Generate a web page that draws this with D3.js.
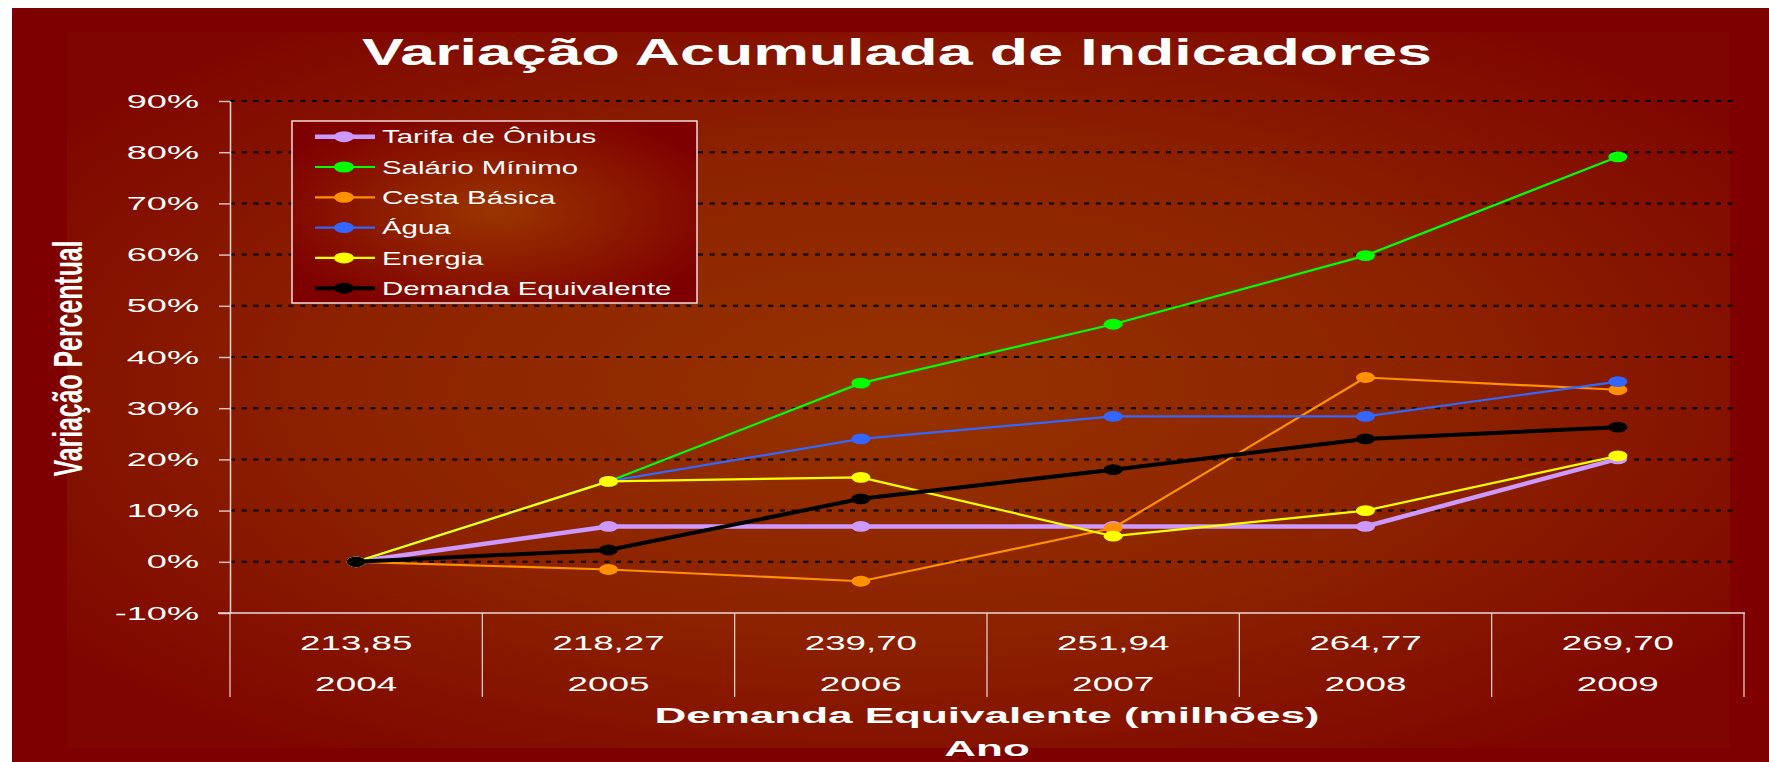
<!DOCTYPE html>
<html>
<head>
<meta charset="utf-8">
<script src="https://cdn.jsdelivr.net/npm/d3@7"></script>
<style>
  body { margin: 0; background: #fff; }
  svg { display: block; font-family: "Liberation Sans", Arial, sans-serif; }
</style>
</head>
<body>
<script>
// data (accumulated % variation)
const years = ['2004', '2005', '2006', '2007', '2008', '2009'];
const demandaLabels = ['213,85', '218,27', '239,70', '251,94', '264,77', '269,70'];
const seriesNames = ['Tarifa de Ônibus', 'Salário Mínimo', 'Cesta Básica', 'Água', 'Energia', 'Demanda Equivalente'];
const tarifa = [0, 6.9, 6.9, 6.9, 6.9, 20.1];
const salario = [0, 15.7, 34.9, 46.4, 59.8, 79.1];
const cesta = [0, -1.5, -3.8, 6.6, 36.0, 33.6];
const agua = [0, 15.7, 24.0, 28.4, 28.4, 35.2];
const energia = [0, 15.7, 16.5, 5.0, 10.0, 20.7];
const demandaEq = [0, 2.3, 12.3, 18.0, 24.0, 26.3];
const yTicks = [-10, 0, 10, 20, 30, 40, 50, 60, 70, 80, 90];

const seriesValues = [tarifa, salario, cesta, agua, energia, demandaEq];
const colors = ['#cc99ff', '#00ff00', '#ff9100', '#3366ff', '#ffff00', '#000000'];
const widths = [4.5, 2.2, 2.2, 2.2, 2.2, 4];

// small attr helper
d3.selection.prototype.at = function(attrs) {
  for (let key in attrs) this.attr(key, attrs[key]);
  return this;
};

const W = 1769, H = 762;
const plotL = 230, plotR = 1744, plotT = 101, plotB = 613;

// the original picture is stretched sideways, so text is widened too
function wide(sel, k) {
  sel.each(function() {
    const w = this.getComputedTextLength();
    d3.select(this).attr('textLength', w * k).attr('lengthAdjust', 'spacingAndGlyphs');
  });
  return sel;
}

const svg = d3.select('body').append('svg').attr('width', W).attr('height', H);
const defs = svg.append('defs');

const pg = defs.append('radialGradient').at({ id: 'panelGrad', cx: 0.5, cy: 0.5, r: 0.62 });
pg.append('stop').at({ offset: 0, 'stop-color': '#963300' });
pg.append('stop').at({ offset: 0.55, 'stop-color': '#8c2200' });
pg.append('stop').at({ offset: 1, 'stop-color': '#7f0600' });

const lg = defs.append('radialGradient').at({ id: 'legGrad', cx: 0.5, cy: 0.5, r: 0.6 });
lg.append('stop').at({ offset: 0, 'stop-color': '#9a3500' });
lg.append('stop').at({ offset: 1, 'stop-color': '#7f0000' });

// frame + panel
svg.append('rect').at({ x: 12, y: 8, width: W - 12, height: H - 8, fill: '#7f0000' });
svg.append('rect').at({ x: 67, y: 32, width: 1663, height: 716, fill: 'url(#panelGrad)' });

const x = d3.scaleBand().domain(years).range([plotL, plotR]);
const y = d3.scaleLinear().domain([-10, 90]).range([plotB, plotT]);

// title
wide(svg.append('text').text('Variação Acumulada de Indicadores')
  .at({ x: 897, y: 65, 'text-anchor': 'middle', fill: '#fff', 'font-size': 36, 'font-weight': 'bold' }), 1.74);

// gridlines
svg.append('g').selectAll('line').data(yTicks.filter(d => d > -10)).join('line')
  .at({ x1: plotL, x2: 1738, y1: d => y(d), y2: d => y(d), stroke: '#000', 'stroke-width': 2, 'stroke-dasharray': '5,6.7' });

// y axis
const yAxis = svg.append('g').attr('transform', `translate(${plotL},0)`)
  .call(d3.axisLeft(y).tickValues(yTicks).tickSize(11).tickSizeOuter(0).tickPadding(20).tickFormat(d => d + '%'));
yAxis.select('.domain').at({ stroke: '#eadada', 'stroke-width': 1.5 });
yAxis.selectAll('.tick line').at({ stroke: '#d8c0c0', 'stroke-width': 1.5 });
wide(yAxis.selectAll('.tick text').at({ fill: '#fff', 'font-size': 19, 'font-family': '"Liberation Sans", Arial, sans-serif' }), 1.9);

// x axis line and category separators
svg.append('line').at({ x1: 218, x2: plotR + 1, y1: plotB, y2: plotB, stroke: '#eadada', 'stroke-width': 1.5 });
svg.append('g').selectAll('line').data(years.concat(['end'])).join('line')
  .at({
    x1: d => d === 'end' ? plotR : x(d), x2: d => d === 'end' ? plotR : x(d),
    y1: plotB, y2: 697, stroke: '#eadada', 'stroke-width': 1.2
  });

const xAxis1 = svg.append('g').attr('transform', `translate(0,${plotB})`)
  .call(d3.axisBottom(x).tickSize(0).tickPadding(22.5).tickFormat((d, i) => demandaLabels[i]));
xAxis1.select('.domain').remove();
wide(xAxis1.selectAll('text').at({ fill: '#fff', 'font-size': 20.5, 'font-family': '"Liberation Sans", Arial, sans-serif' }), 1.79);

const xAxis2 = svg.append('g').attr('transform', `translate(0,${plotB})`)
  .call(d3.axisBottom(x).tickSize(0).tickPadding(63.5));
xAxis2.select('.domain').remove();
wide(xAxis2.selectAll('text').at({ fill: '#fff', 'font-size': 20.5, 'font-family': '"Liberation Sans", Arial, sans-serif' }), 1.8);

// axis titles
const cx = (plotL + plotR) / 2;
wide(svg.append('text').text('Demanda Equivalente (milhões)')
  .at({ x: cx, y: 723, 'text-anchor': 'middle', fill: '#fff', 'font-size': 22, 'font-weight': 'bold' }), 2.0);
wide(svg.append('text').text('Ano')
  .at({ x: cx, y: 755.5, 'text-anchor': 'middle', fill: '#fff', 'font-size': 22, 'font-weight': 'bold' }), 2.0);

svg.append('text').text('Variação Percentual')
  .at({
    transform: 'translate(82,358.5) scale(1.8,1) rotate(-90)', 'text-anchor': 'middle',
    fill: '#fff', 'font-size': 23, 'font-weight': 'bold', textLength: 236, lengthAdjust: 'spacingAndGlyphs'
  });

// series
const cxOf = i => x(years[i]) + x.bandwidth() / 2;
const line = d3.line().x((d, i) => cxOf(i)).y(d => y(d));

seriesValues.forEach((vals, s) => {
  const g = svg.append('g');
  g.append('path').datum(vals)
    .at({ d: line, fill: 'none', stroke: colors[s], 'stroke-width': widths[s], 'stroke-linejoin': 'round' });
  g.selectAll('ellipse').data(vals).join('ellipse')
    .at({ cx: (d, i) => cxOf(i), cy: d => y(d), rx: 9.5, ry: 5.4, fill: colors[s] });
});

// legend
const leg = svg.append('g');
leg.append('rect').at({ x: 292, y: 121, width: 405, height: 182, fill: 'url(#legGrad)', stroke: '#f2dcdc', 'stroke-width': 1.5 });
const rows = leg.selectAll('g.row').data(seriesNames).join('g').attr('class', 'row')
  .attr('transform', (d, i) => `translate(0,${136.7 + i * 30.3})`);
rows.append('line').at({ x1: 315, x2: 375, y1: 0, y2: 0, stroke: (d, i) => colors[i], 'stroke-width': (d, i) => widths[i] });
rows.append('ellipse').at({ cx: 344, cy: 0, rx: 10, ry: 5.5, fill: (d, i) => colors[i] });
wide(rows.append('text').text(d => d)
  .at({ x: 382, y: 6.6, fill: '#fff', 'font-size': 18.5 }), 1.59);
</script>
</body>
</html>
